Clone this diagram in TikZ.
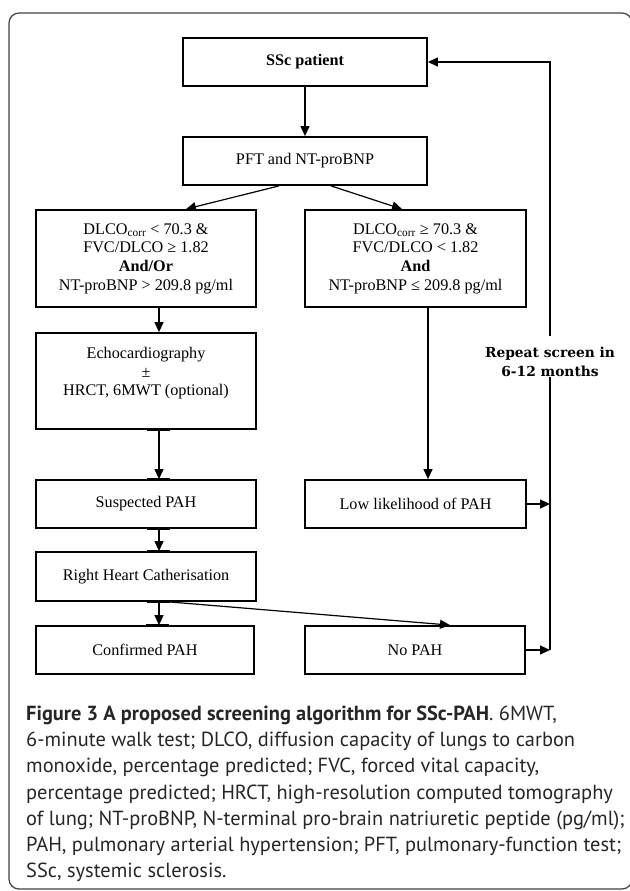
\documentclass[tikz,border=0pt]{standalone}
\usepackage{fontspec}
\setmainfont{Liberation Serif}
\newfontfamily\capfont{PT Sans}
\newfontfamily\notefont{DejaVu Serif}
\usetikzlibrary{arrows.meta}
\newcommand{\boxfont}{\fontsize{16.2}{18.7}\selectfont}

\begin{document}
\begin{tikzpicture}[x=1pt,y=-1pt,>={Triangle[length=10pt,width=9pt]},
    box/.style={draw,line width=1.8pt,align=center,inner sep=0pt,font=\boxfont},
    flat/.style={box,minimum height=48pt},
    tall/.style={minimum height=97pt},
    link/.style={->,line width=1.2pt},
    stub/.style={line width=3pt}]

  \useasboundingbox (0,0) rectangle (629,891);
  \draw[line width=1.2pt,black!75,rounded corners=10pt] (9,13) rectangle (632,889);

  \begin{scope}[every node/.style={flat,minimum width=220pt}]
    \node (ssc)   at (305,62)    [minimum width=244pt] {\textbf{SSc patient}};
    \node (pft)   at (305,161)   [minimum width=244pt] {PFT and NT-proBNP};
    \node (cond1) at (146,258.5) [tall] {DLCO\textsubscript{corr} < 70.3 \&\\ FVC/DLCO ≥ 1.82\\ \textbf{And/Or}\\ NT-proBNP > 209.8 pg/ml};
    \node (cond2) at (415.5,258.5) [tall,minimum width=221pt] {DLCO\textsubscript{corr} ≥ 70.3 \&\\ FVC/DLCO < 1.82\\ \textbf{And}\\ NT-proBNP ≤ 209.8 pg/ml};
    \node (echo)  at (146,381)   [tall,minimum height=96pt] {Echocardiography\\ ±\\ HRCT, 6MWT (optional)\\ ~};
    \node (susp)  at (146,504)   {Suspected PAH};
    \node (low)   at (415.5,504) [minimum width=221pt] {Low likelihood of PAH};
    \node (rhc)   at (146,576.5) [minimum height=49pt] {Right Heart Catherisation};
    \node (conf)  at (145,650)   [minimum width=218pt] {Confirmed PAH};
    \node (nopah) at (415,650)   {No PAH};
  \end{scope}

  \node (repeat) at (550,361.5) [inner sep=0pt,align=center,
    font=\notefont\bfseries\fontsize{13.8}{19}\selectfont] {Repeat screen in\\ 6-12 months};

  % short heavy marks on the box edges
  \foreach \n/\a in {echo/south,susp/north,susp/south,rhc/north,rhc/south,conf/north}
    \draw[stub] ([xshift=1pt]\n.\a) -- ([xshift=24pt]\n.\a);

  \draw[link] (ssc) -- (pft);
  \draw[link] ([xshift=-26pt]pft.south) -- ([xshift=40pt]cond1.north);
  \draw[link] ([xshift=26pt]pft.south) -- ([xshift=-13.5pt]cond2.north);
  \draw[link] ([xshift=13pt]cond1.south) -- ([xshift=13pt]echo.north);
  \draw[link] ([xshift=12.5pt]cond2.south) -- ([xshift=12.5pt]low.north);
  \draw[link] ([xshift=13pt]echo.south) -- ([xshift=13pt]susp.north);
  \draw[link] ([xshift=13pt]susp.south) -- ([xshift=13pt]rhc.north);
  \draw[link] ([xshift=13pt]rhc.south) -- ([xshift=14pt]conf.north);
  \draw[link] ([xshift=23pt]rhc.south) -- ([xshift=35pt]nopah.north);

  % loop back to the top
  \coordinate (loop) at (550,650);
  \draw[link] (low.east) -- (low.east -| loop);
  \draw[link] (nopah.east) -- (loop);
  \draw[line width=1.2pt] (loop) -- (repeat.south);
  \draw[link] ([yshift=10pt]repeat.north) |- (ssc.east);

  \node (caption) at (26,706) [anchor=north west,align=left,inner sep=0pt,text=black!85,
    font=\capfont\fontsize{20.4}{26.1}\selectfont]
    {\textbf{Figure 3 A proposed screening algorithm for SSc-PAH}. 6MWT,\\
     6-minute walk test; DLCO, diffusion capacity of lungs to carbon\\
     monoxide, percentage predicted; FVC, forced vital capacity,\\
     percentage predicted; HRCT, high-resolution computed tomography\\
     of lung; NT-proBNP, N-terminal pro-brain natriuretic peptide (pg/ml);\\
     PAH, pulmonary arterial hypertension; PFT, pulmonary-function test;\\
     SSc, systemic sclerosis.};

\end{tikzpicture}
\end{document}
